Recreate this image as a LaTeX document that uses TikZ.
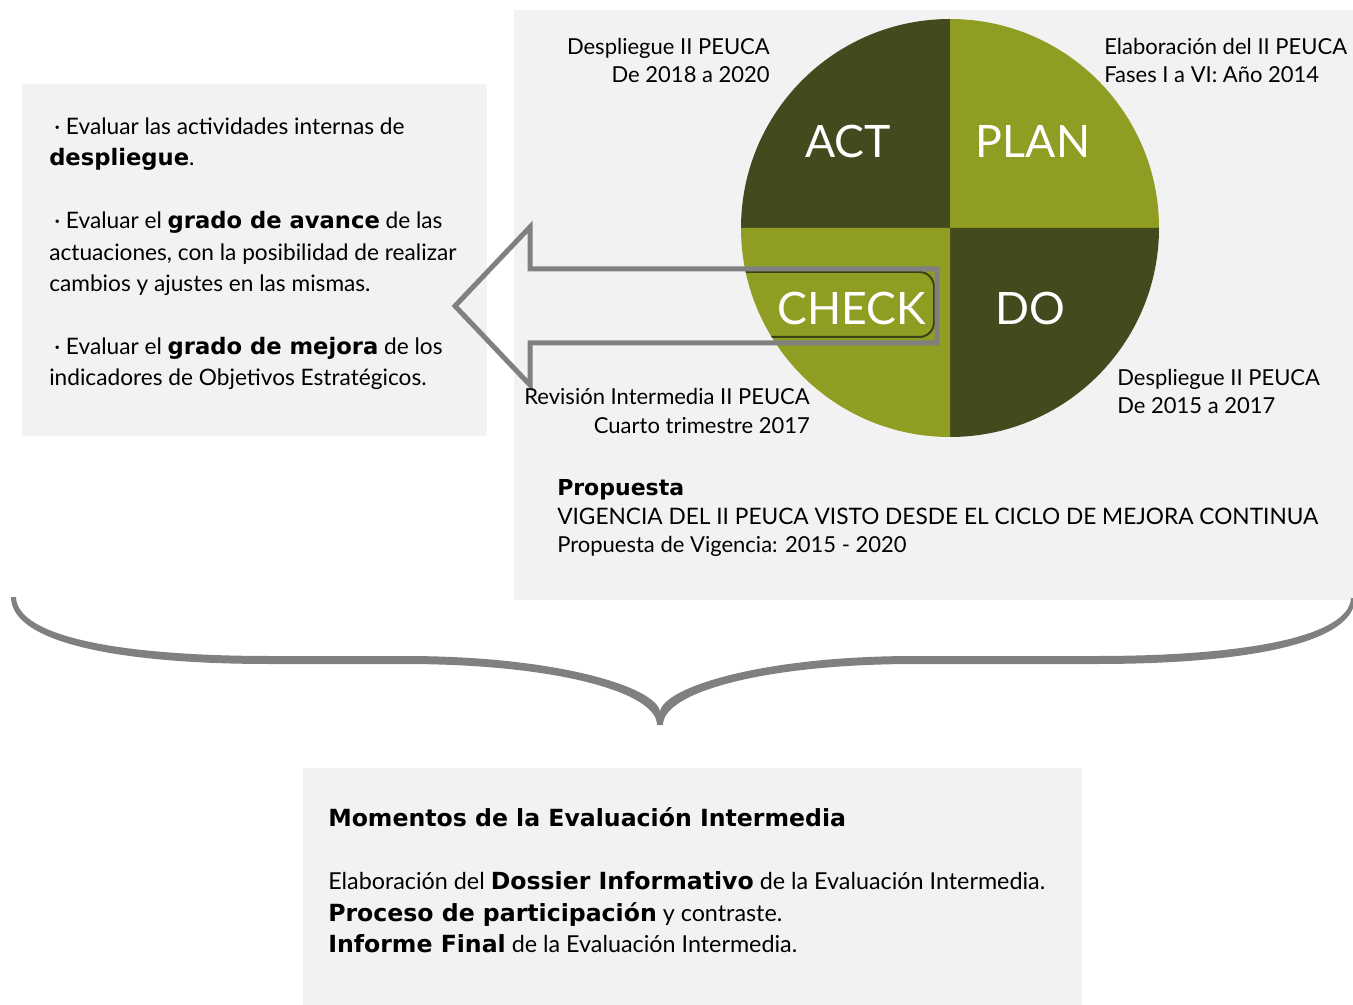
\documentclass[tikz,border=0pt]{standalone}
\usepackage{fontspec}
\setmainfont{Lato}
\newfontfamily\vbfam{DejaVu Sans}
\newcommand\vbf[1]{{\vbfam\bfseries #1}}
\newcommand\vbfb[1]{{\fontsize{17.7}{20}\selectfont\vbfam\bfseries #1}}
\definecolor{panelgray}{HTML}{F2F2F2}
\definecolor{darkolive}{HTML}{434B1E}
\definecolor{lightolive}{HTML}{8F9D23}
\definecolor{arrowgray}{HTML}{808080}
\definecolor{rimolive}{HTML}{3A4116}
\begin{document}
\begin{tikzpicture}[x=0.75pt,y=-0.75pt,
  txt/.style={inner sep=0pt, anchor=base west, font=\fontsize{17}{20}\selectfont},
  btxt/.style={inner sep=0pt, anchor=base west, font=\fontsize{17.5}{20}\selectfont},
  lab/.style={inner sep=0pt, font=\fontsize{16.5}{20}\selectfont},
  big/.style={inner sep=0pt, anchor=base, text=white, font=\fontsize{33.5}{40}\selectfont},
  panel/.style={fill=panelgray},
  arrowline/.style={draw=arrowgray, line width=3.75pt, line join=miter},
  bracefill/.style={fill=arrowgray}]
\useasboundingbox (0,0) rectangle (1353,1005);
\fill[white] (0,0) rectangle (1353,1005);
% panels
\fill[panel] (22,84) rectangle (487,436);
\fill[panel] (514,10) rectangle (1353,600);
\fill[panel] (303,768) rectangle (1082,1005);
% PDCA circle
\fill[darkolive] (950,228) -- (741,228) arc[start angle=180,end angle=270,radius=209] -- cycle;
\fill[lightolive] (950,228) -- (950,19) arc[start angle=270,end angle=360,radius=209] -- cycle;
\fill[darkolive] (950,228) -- (1159,228) arc[start angle=0,end angle=90,radius=209] -- cycle;
\fill[lightolive] (950,228) -- (950,437) arc[start angle=90,end angle=180,radius=209] -- cycle;
\begin{scope}
\clip (950,228) circle[radius=209];
\draw[rimolive, line width=1.5pt, rounded corners=11pt] (700,272) rectangle (934,337);
\end{scope}
\node[big] (act) at (848,158) {ACT};
\node[big] (plan) at (1033,158) {PLAN};
\node[big] (check) at (852,325) {CHECK};
\node[big] (do) at (1030,325) {DO};
% arrow
\draw[arrowline] (937,269) -- (530,269) -- (530,227) -- (455,306) -- (530,385) -- (530,343) -- (937,343) -- cycle;
% labels around circle
\node[lab, anchor=base east] (tl1) at (770,55) {Despliegue II PEUCA};
\node[lab, anchor=base east] (tl2) at (770,83) {De 2018 a 2020};
\node[lab, anchor=base west] (tr1) at (1104,55) {Elaboración del II PEUCA};
\node[lab, anchor=base west] (tr2) at (1104,83) {Fases I a VI: Año 2014};
\node[lab, anchor=base east] (bl1) at (810,405) {Revisión Intermedia II PEUCA};
\node[lab, anchor=base east] (bl2) at (810,434) {Cuarto trimestre 2017};
\node[lab, anchor=base west] (br1) at (1117,386) {Despliegue II PEUCA};
\node[lab, anchor=base west] (br2) at (1117,414) {De 2015 a 2017};
\node[lab, anchor=base west] (prop) at (557,495) {\vbf{Propuesta}};
\node[lab, anchor=base west, font=\fontsize{17}{20}\selectfont] (vig) at (557,524) {VIGENCIA DEL II PEUCA VISTO DESDE EL CICLO DE MEJORA CONTINUA};
\node[lab, anchor=base west] (pvig) at (557,552) {Propuesta de Vigencia: 2015 - 2020};
% left panel text
\node[txt] (l1) at (54,135) {· Evaluar las actividades internas de};
\node[txt] (l2) at (49,166) {\vbf{despliegue}.};
\node[txt] (l3) at (54,229) {· Evaluar el \vbf{grado de avance} de las};
\node[txt] (l4) at (49,261) {actuaciones, con la posibilidad de realizar};
\node[txt] (l5) at (49,292) {cambios y ajustes en las mismas.};
\node[txt] (l6) at (54,355) {· Evaluar el \vbf{grado de mejora} de los};
\node[txt] (l7) at (49,386) {indicadores de Objetivos Estratégicos.};
% brace (tapered)
\fill[bracefill] (11,597) .. controls (11,643) and (120,664) .. (270,664) -- (405,664)
  .. controls (555,664) and (657,692) .. (657,725) -- (663,725)
  .. controls (663,692) and (765,664) .. (915,664) -- (1096,664)
  .. controls (1252,664) and (1355,642) .. (1355,598) -- (1351,598)
  .. controls (1349,636) and (1248,656) .. (1096,656) -- (915,656)
  .. controls (760,656) and (662,688) .. (660,712)
  .. controls (658,688) and (560,656) .. (405,656) -- (270,656)
  .. controls (122,656) and (17,637) .. (16,597) -- cycle;
% bottom panel text
\node[btxt] (m0) at (328,826) {\vbfb{Momentos de la Evaluación Intermedia}};
\node[btxt] (m1) at (328,889) {Elaboración del \vbfb{Dossier Informativo} de la Evaluación Intermedia.};
\node[btxt] (m2) at (328,921) {\vbfb{Proceso de participación} y contraste.};
\node[btxt] (m3) at (328,952) {\vbfb{Informe Final} de la Evaluación Intermedia.};
\end{tikzpicture}
\end{document}
